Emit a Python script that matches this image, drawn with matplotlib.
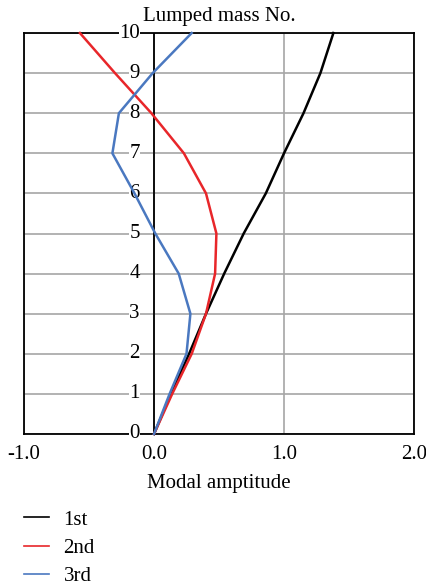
import matplotlib
matplotlib.use("Agg")
import matplotlib.pyplot as plt
from matplotlib.lines import Line2D

plt.rcParams['font.family'] = ['Liberation Serif', 'DejaVu Serif']

mass_no = [0, 1, 2, 3, 4, 5, 6, 7, 8, 9, 10]
mode1 = [0.0, 0.13, 0.27, 0.40, 0.54, 0.69, 0.86, 1.00, 1.15, 1.28, 1.38]
mode2 = [0.0, 0.14, 0.29, 0.40, 0.47, 0.48, 0.40, 0.23, -0.02, -0.30, -0.57]
mode3 = [0.0, 0.12, 0.25, 0.28, 0.19, 0.01, -0.15, -0.32, -0.27, -0.01, 0.29]
series_labels = ['1st', '2nd', '3rd']
colors = ['#000000', '#E8262A', '#4A78C0']
xticks = [-1.0, 0.0, 1.0, 2.0]
xticklabels = ['-1.0', '0.0', '1.0', '2.0']
yticks = list(range(0, 11))

fig = plt.figure(figsize=(4.27, 5.86), dpi=100)
ax = fig.add_axes([24/427, 1-434/586, 390/427, 401/586])

ax.set_xlim(-1.0, 2.0)
ax.set_ylim(0, 10)
ax.set_xticks(xticks)
ax.set_xticklabels(xticklabels, fontsize=15)
ax.set_yticks(yticks)
ax.set_yticklabels([])
ax.tick_params(axis='both', length=0, pad=8)
ax.grid(True, color='#A6A6A6', linewidth=1.2)
ax.set_axisbelow(True)
for s in ax.spines.values():
    s.set_color('black')
    s.set_linewidth(1.3)
ax.axvline(0, color='black', linewidth=1.3, zorder=2)

for yv in yticks:
    ax.text(-0.11, yv, str(yv), ha='right', va='center', fontsize=15,
            bbox=dict(facecolor='white', edgecolor='none', pad=0.3), zorder=3)

for vals, c, lab in zip([mode1, mode2, mode3], colors, series_labels):
    ax.plot(vals, mass_no, color=c, linewidth=1.8, label=lab, zorder=4, clip_on=False)

ax.set_title('Lumped mass No.', fontsize=15, pad=9)
ax.set_xlabel('Modal amptitude', fontsize=15, labelpad=7)

handles = [Line2D([0], [0], color=c, linewidth=1.2) for c in colors]
fig.legend(handles, series_labels, loc='upper left', bbox_to_anchor=(24/427, 1-510/586),
           frameon=False, fontsize=15, handlelength=1.2, labelspacing=0.42,
           handletextpad=0.7, borderaxespad=0, borderpad=0)

fig.savefig('out.png', dpi=100)
